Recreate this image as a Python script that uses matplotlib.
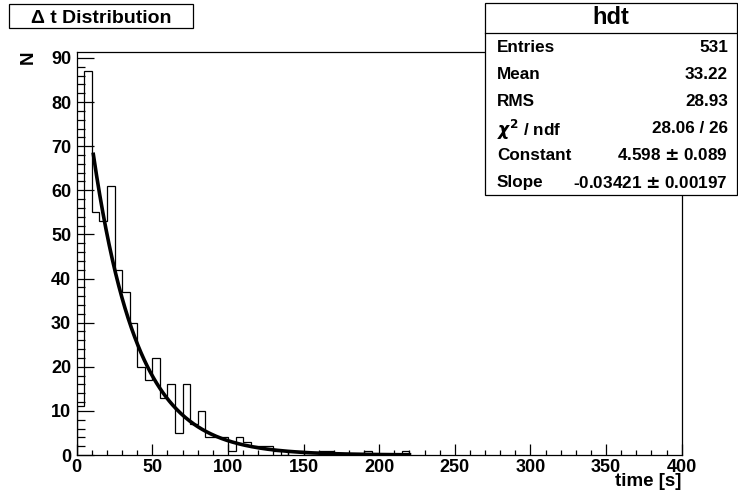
import numpy as np
import matplotlib.pyplot as plt
from matplotlib.patches import Rectangle
from matplotlib.ticker import MultipleLocator

plt.rcParams['font.family'] = ['Liberation Sans', 'DejaVu Sans']
plt.rcParams['font.weight'] = 'bold'

# histogram hdt: 5 s bins starting at 0
bin_width = 5
counts = [11, 87, 55, 53, 61, 42, 37, 30, 20, 17,
          22, 13, 16, 5, 16, 7, 10, 4, 4, 4,
          1, 4, 3, 2, 2, 2, 1, 0, 1, 1,
          0, 0, 1, 1, 0, 0, 0, 0, 1, 0,
          0, 0, 0, 1]

# expo fit results
fit_const = 4.598
fit_slope = -0.03421
fit_range = (11, 220)

stats_labels = ['Entries', 'Mean', 'RMS', r'$\chi^{2}$ / ndf', 'Constant', 'Slope']
stats_values = ['531', '33.22', '28.93', '28.06 / 26',
                '4.598 $\\pm$ 0.089', '-0.03421 $\\pm$ 0.00197']

W, H = 738, 497
fig = plt.figure(figsize=(W / 100, H / 100), dpi=100)
ax = fig.add_axes([76.7 / W, 1 - 455 / H, (681.7 - 76.7) / W, (455 - 52) / H])

edges = np.arange(len(counts) + 1) * bin_width
ax.stairs(counts, edges, baseline=0, color='black', linewidth=0.9)

xf = np.linspace(fit_range[0], fit_range[1], 300)
ax.plot(xf, np.exp(fit_const + fit_slope * xf), color='black', linewidth=2.6)

ax.set_xlim(0, 400)
ax.set_ylim(0, 1.05 * max(counts))
ax.xaxis.set_major_locator(MultipleLocator(50))
ax.xaxis.set_minor_locator(MultipleLocator(10))
ax.yaxis.set_major_locator(MultipleLocator(10))
ax.yaxis.set_minor_locator(MultipleLocator(2))
ax.tick_params(axis='both', which='both', direction='in', top=False, right=False,
               labelsize=13, width=0.9)
ax.tick_params(axis='x', which='major', length=8, pad=3)
ax.tick_params(axis='x', which='minor', length=3.8)
ax.tick_params(axis='y', which='major', length=12.5, pad=4)
ax.tick_params(axis='y', which='minor', length=6)
for lab in ax.get_xticklabels() + ax.get_yticklabels():
    lab.set_fontweight('bold')
for sp in ax.spines.values():
    sp.set_linewidth(0.9)

# axis titles
fig.text(681.7 / W, 1 - 482 / H, 'time [s]', ha='right', va='center',
         fontsize=13.5, fontweight='bold')
fig.text(28 / W, 1 - 51 / H, 'N', ha='center', va='top', rotation=90,
         fontsize=13.5, fontweight='bold')

# title box
fig.add_artist(Rectangle((9 / W, 1 - 28 / H), (193 - 9) / W, 24 / H,
                         transform=fig.transFigure, facecolor='white',
                         edgecolor='black', linewidth=0.9))
fig.text(101 / W, 1 - 16.5 / H, 'Δ t Distribution', ha='center', va='center_baseline',
         fontsize=14, fontweight='bold')

# stats box
bx0, by0, bx1, by1 = 485, 3, 737, 195
fig.add_artist(Rectangle((bx0 / W, 1 - by1 / H), (bx1 - bx0) / W, (by1 - by0) / H,
                         transform=fig.transFigure, facecolor='white',
                         edgecolor='black', linewidth=0.9, zorder=5))
fig.add_artist(plt.Line2D([bx0 / W, bx1 / W], [1 - 33 / H, 1 - 33 / H],
                          transform=fig.transFigure, color='black', linewidth=0.9, zorder=6))
fig.text((bx0 + bx1) / 2 / W, 1 - 18 / H, 'hdt', ha='center', va='center',
         fontsize=17, fontweight='bold', zorder=7)
for i, (lab, val) in enumerate(zip(stats_labels, stats_values)):
    y = 1 - (46 + i * 27) / H
    fig.text(497 / W, y, lab, ha='left', va='center_baseline', fontsize=12.3,
             fontweight='bold', zorder=7)
    fig.text(728 / W, y, val, ha='right', va='center_baseline', fontsize=12.3,
             fontweight='bold', zorder=7)

fig.savefig('out.png', dpi=100)
